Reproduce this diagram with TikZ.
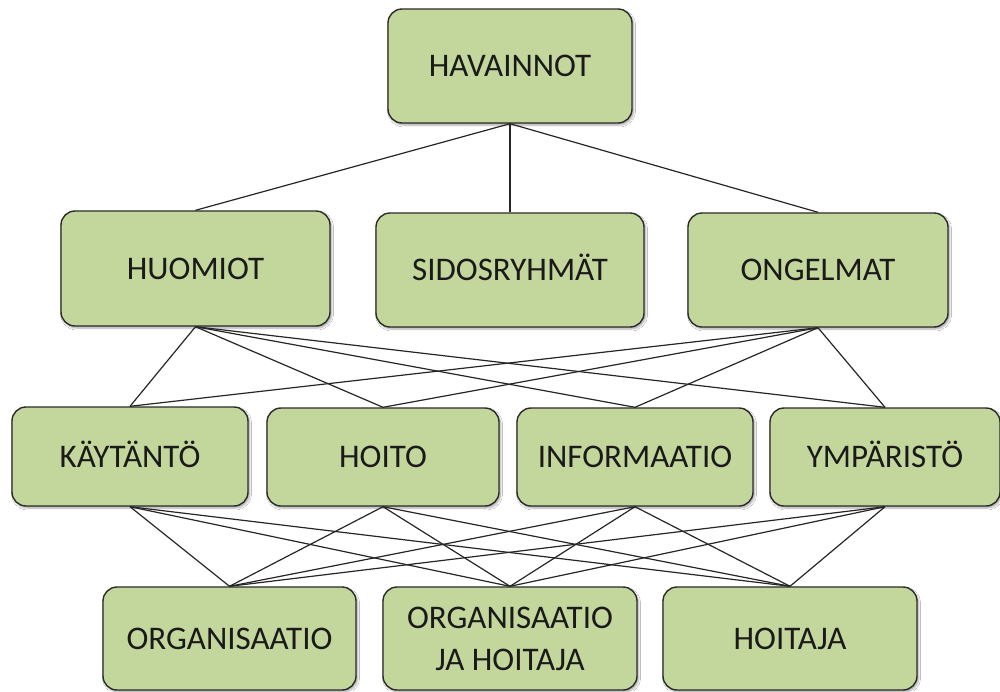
\documentclass[tikz,border=0pt]{standalone}
\usepackage{fontspec}
\setmainfont{Carlito}
\usetikzlibrary{shadows.blur}
\definecolor{boxfill}{HTML}{C3D69B}
\definecolor{boxline}{HTML}{2B2B2B}
\definecolor{txt}{HTML}{1A1A1A}
\begin{document}
\begin{tikzpicture}[x=1pt,y=-1pt,
  box/.style={draw=boxline, line width=1.4pt, fill=boxfill, rounded corners=14pt,
    align=center, text=txt, font=\fontsize{33}{42}\selectfont, inner sep=0pt,
    text height=21.3pt, text depth=0pt,
    blur shadow={shadow xshift=1.5pt, shadow yshift=-2pt, shadow blur steps=6, shadow opacity=35}},
  link/.style={draw=black!85, line width=1.2pt}]
\useasboundingbox (0,0) rectangle (1000,691);
\fill[white] (0,0) rectangle (1000,691);

% top level
\node[box, minimum width=244pt, minimum height=114pt] (hav) at (510,66) {HAVAINNOT};

% second level
\node[box, minimum width=269pt, minimum height=115pt] (huo) at (195.5,268.5) {HUOMIOT};
\node[box, minimum width=268pt, minimum height=114pt] (sid) at (510,270) {SIDOSRYHMÄT};
\node[box, minimum width=260pt, minimum height=114pt] (ong) at (818,270) {ONGELMAT};

% third level
\node[box, minimum width=236pt, minimum height=99pt] (kay) at (130,456.5) {KÄYTÄNTÖ};
\node[box, minimum width=232pt, minimum height=98pt] (hoi) at (383,457) {HOITO};
\node[box, minimum width=236pt, minimum height=98pt] (inf) at (635,457) {INFORMAATIO};
\node[box, minimum width=230pt, minimum height=98pt] (ymp) at (885,457) {YMPÄRISTÖ};

% bottom level
\node[box, minimum width=253pt, minimum height=103pt] (org) at (229.5,638.5) {ORGANISAATIO};
\node[box, minimum width=254pt, minimum height=103pt, text height=63.3pt] (oja) at (510,638.5) {ORGANISAATIO\\JA HOITAJA};
\node[box, minimum width=254pt, minimum height=103pt] (hja) at (790,638.5) {HOITAJA};

% connectors
\foreach \c in {huo,sid,ong} \draw[link] (hav.south) -- (\c.north);
\foreach \p in {huo,ong} \foreach \c in {kay,hoi,inf,ymp} \draw[link] (\p.south) -- (\c.north);
\foreach \p in {kay,hoi,inf,ymp} \foreach \c in {org,oja,hja} \draw[link] (\p.south) -- (\c.north);
\end{tikzpicture}
\end{document}
